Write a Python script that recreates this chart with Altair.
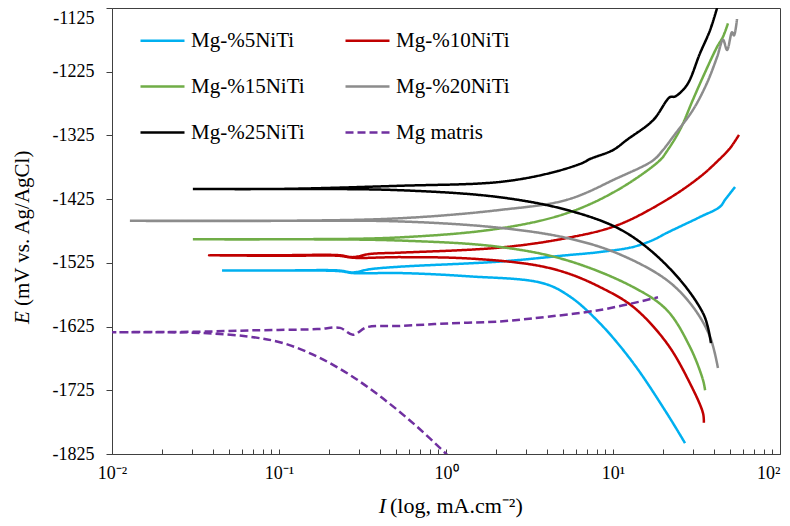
import altair as alt
import pandas as pd

SERIES = ["Mg-%5NiTi", "Mg-%10NiTi", "Mg-%15NiTi", "Mg-%20NiTi", "Mg-%25NiTi", "Mg matris"]
COLORS = ["#00B0F0", "#C00000", "#70AD47", "#8C8C8C", "#000000", "#7030A0"]
DASHES = [[1, 0], [1, 0], [1, 0], [1, 0], [1, 0], [8, 4]]
# legend reads row by row, Vega fills column by column
LEGEND_ORDER = [0, 2, 4, 1, 3, 5]

# Each series: cathodic branch (high I -> corrosion point) then anodic branch
I_5 = [27.0, 21.0, 13.2, 8.36, 5.53, 3.81, 1.34, 0.531, 0.277, 0.23, 0.1, 0.0456,
       0.1, 0.23, 0.277, 0.35, 0.531, 2.1, 5.3, 8.36, 13.2, 17.4, 21.0, 33.2, 43.7, 46.9, 53.8]
E_5 = [-1808, -1761, -1682, -1620, -1578, -1557, -1546, -1541, -1541, -1538, -1537, -1537,
       -1537, -1537, -1540, -1535, -1531, -1523, -1513, -1508, -1500, -1489, -1478, -1453, -1437, -1426, -1406]

I_10 = [35.0, 34.6, 28.9, 21.0, 13.2, 8.36, 5.3, 3.32, 1.34, 0.531, 0.277, 0.23, 0.1, 0.0381,
        0.1, 0.23, 0.277, 0.35, 0.531, 2.1, 5.3, 10.6, 21.0, 33.2, 42.0, 50.2, 56.8]
E_10 = [-1776, -1761, -1714, -1651, -1594, -1563, -1541, -1528, -1518, -1516, -1517, -1514, -1514, -1513,
        -1513, -1513, -1516, -1511, -1509, -1501, -1486, -1466, -1426, -1390, -1366, -1345, -1324]

I_15 = [35.6, 34.6, 28.9, 21.0, 13.2, 5.3, 2.1, 0.531, 0.1, 0.0305,
        0.1, 0.531, 2.1, 5.3, 10.6, 19.1, 21.0, 25.2, 30.1, 34.6, 42.0, 45.6, 48.8]
E_15 = [-1725, -1709, -1657, -1599, -1563, -1521, -1500, -1490, -1488, -1488,
        -1488, -1485, -1471, -1447, -1411, -1364, -1350, -1316, -1269, -1233, -1186, -1170, -1149]

I_20 = [42.5, 38.1, 30.1, 21.0, 10.6, 5.3, 2.1, 0.531, 0.1, 0.0128,
        0.1, 0.531, 2.1, 5.3, 10.6, 17.4, 19.9, 22.9, 30.1, 36.5, 42.0, 45.6, 48.2, 51.6, 53.0, 55.3]
E_20 = [-1690, -1641, -1594, -1552, -1510, -1486, -1470, -1460, -1459, -1459,
        -1459, -1455, -1442, -1426, -1392, -1364, -1348, -1327, -1285, -1243, -1202, -1175, -1191, -1163, -1168, -1142]

I_25 = [38.6, 37.0, 34.6, 26.2, 16.7, 10.6, 5.3, 2.1, 0.531, 0.1, 0.0305,
        0.1, 0.531, 2.1, 4.2, 6.6, 7.28, 10.0, 12.1, 17.4, 21.9, 23.5, 27.7, 33.2, 38.1, 42.0]
E_25 = [-1651, -1626, -1604, -1557, -1505, -1470, -1442, -1422, -1411, -1409, -1409,
        -1409, -1404, -1398, -1384, -1368, -1362, -1348, -1332, -1301, -1265, -1264, -1246, -1196, -1160, -1125]

I_MG = [1.05, 0.67, 0.42, 0.266, 0.169, 0.106, 0.067, 0.0337, 0.01,
        0.0337, 0.067, 0.169, 0.232, 0.277, 0.336, 0.531, 1.04, 2.1, 3.32, 8.36, 18.6]
E_MG = [-1830, -1782, -1738, -1701, -1672, -1651, -1641, -1635, -1634,
        -1633, -1631, -1629, -1627, -1638, -1626, -1624, -1620, -1617, -1612, -1599, -1579]

Y_TICKS = [-1825, -1725, -1625, -1525, -1425, -1325, -1225, -1125]
X_TICKS = [round(m * 10 ** p, 6) for p in range(-2, 2) for m in range(1, 10)] + [100]
X_LABELS = {0.01: "10\u207b\u00b2", 0.1: "10\u207b\u00b9", 1: "10\u2070", 10: "10\u00b9", 100: "10\u00b2"}

rows = []
for name, Is, Es in zip(SERIES, [I_5, I_10, I_15, I_20, I_25, I_MG], [E_5, E_10, E_15, E_20, E_25, E_MG]):
    for k, (i, e) in enumerate(zip(Is, Es)):
        rows.append({"series": name, "I": i, "E": e, "idx": k})
df = pd.DataFrame(rows)

FONT = "Liberation Serif"
AX = "#404040"

xscale = alt.Scale(type="log", domain=[0.01, 100], nice=False)
yscale = alt.Scale(domain=[-1825, -1125], nice=False, zero=False)

label_expr = " : ".join(f"datum.value == {v} ? '{t}'" for v, t in X_LABELS.items()) + " : ''"

leg_domain = [SERIES[i] for i in LEGEND_ORDER]
leg_colors = [COLORS[i] for i in LEGEND_ORDER]
leg_dashes = [DASHES[i] for i in LEGEND_ORDER]

lines = alt.Chart(df).mark_line(strokeWidth=2.5, clip=True, interpolate="catmull-rom").encode(
    x=alt.X("I:Q", scale=xscale,
            axis=alt.Axis(values=X_TICKS, labelExpr=label_expr, ticks=True,
                          tickSize=alt.ExprRef(expr="-5"),
                          labelPadding=15, grid=False, title=None, labelFlush=False,
                          labelOverlap=False,
                          labelAlign={"condition": {"test": "datum.value > 50", "value": "right"},
                                      "value": "center"})),
    y=alt.Y("E:Q", scale=yscale,
            axis=alt.Axis(values=Y_TICKS, tickSize=6, labelPadding=12, grid=False, title=None,
                          labelExpr="'' + datum.value", labelOverlap=False, labelFlush=False,
                          labelOffset={"condition": {"test": "datum.value > -1130", "value": 10},
                                       "value": 0})),
    color=alt.Color("series:N", scale=alt.Scale(domain=leg_domain, range=leg_colors),
                    legend=alt.Legend(title=None)),
    strokeDash=alt.StrokeDash("series:N", scale=alt.Scale(domain=leg_domain, range=leg_dashes),
                              legend=alt.Legend(title=None)),
    order=alt.Order("idx:Q"),
)

xt1 = alt.Chart(pd.DataFrame({"t": ["I"]})).mark_text(
    font=FONT, fontSize=22, fontStyle="italic", align="right", baseline="alphabetic", color="black"
).encode(x=alt.value(274), y=alt.value(505), text="t:N")
xt2 = alt.Chart(pd.DataFrame({"t": ["(log, mA.cm\u207b\u00b2)"]})).mark_text(
    font=FONT, fontSize=22, align="left", baseline="alphabetic", color="black"
).encode(x=alt.value(278), y=alt.value(505), text="t:N")
yt1 = alt.Chart(pd.DataFrame({"t": ["E"]})).mark_text(
    font=FONT, fontSize=21, fontStyle="italic", align="left", baseline="alphabetic", angle=270, color="black"
).encode(x=alt.value(-83), y=alt.value(316), text="t:N")
yt2 = alt.Chart(pd.DataFrame({"t": ["(mV vs. Ag/AgCl)"]})).mark_text(
    font=FONT, fontSize=21, align="left", baseline="alphabetic", angle=270, color="black"
).encode(x=alt.value(-83), y=alt.value(298), text="t:N")

chart = alt.layer(lines, xt1, xt2, yt1, yt2).properties(
    width=668, height=446,
    padding={"left": 104, "top": 0, "right": 2, "bottom": 64},
    autosize=alt.AutoSizeParams(type="none"),
).configure_view(stroke=AX, strokeWidth=1).configure_axis(
    domainColor=AX, tickColor=AX, labelFont=FONT, labelFontSize=18, labelColor="black",
    titleFont=FONT,
).configure_legend(
    orient="none", legendX=27, legendY=9, columns=2, symbolType="stroke", symbolSize=1936,
    symbolStrokeWidth=2.5, labelFont=FONT, labelFontSize=21, labelColor="black", labelOffset=5,
    rowPadding=12, columnPadding=35, padding=0, labelLimit=400,
)

chart.save("out.html", embed_options={"renderer": "svg", "actions": False})
